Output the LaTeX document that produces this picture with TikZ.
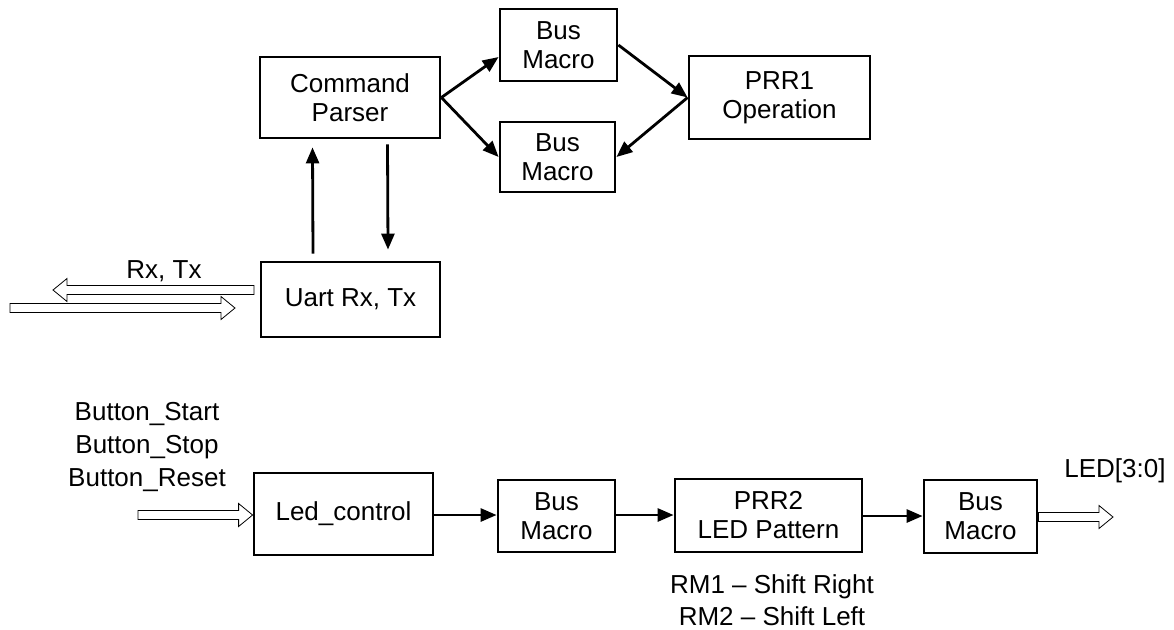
\documentclass[tikz,border=0pt]{standalone}
\usepackage{fontspec}
\setmainfont{Liberation Sans}
\usepackage{tikz}
\usetikzlibrary{arrows.meta}
\usetikzlibrary{calc}

\begin{document}
\begin{tikzpicture}[x=0.5pt,y=-0.5pt,
  every node/.style={font=\fontsize{13}{14.5}\selectfont},
  block/.style={draw, line width=1.4pt, align=center, inner sep=0pt},
  arr/.style={line width=1.4pt, -{Triangle[length=8pt,width=6.5pt]}},
  fatr/.style={draw, line width=0.8pt, to path={
    ($(\tikztostart)+(0,-4.5)$) -- ($(\tikztotarget)+(-14,-4.5)$) -- ($(\tikztotarget)+(-14,-11.5)$)
    -- (\tikztotarget) -- ($(\tikztotarget)+(-14,11.5)$) -- ($(\tikztotarget)+(-14,4.5)$)
    -- ($(\tikztostart)+(0,4.5)$) -- cycle}},
  fatl/.style={draw, line width=0.8pt, to path={
    ($(\tikztostart)+(0,-4.5)$) -- ($(\tikztotarget)+(14,-4.5)$) -- ($(\tikztotarget)+(14,-11.5)$)
    -- (\tikztotarget) -- ($(\tikztotarget)+(14,11.5)$) -- ($(\tikztotarget)+(14,4.5)$)
    -- ($(\tikztostart)+(0,4.5)$) -- cycle}}]
\useasboundingbox (0,0) rectangle (1174,629);

% upper part
\node[block, minimum width=90pt, minimum height=40.5pt] (cmd) at (350,97.5) {Command\\Parser};
\node[block, minimum width=58.5pt, minimum height=36pt] (busA) at (558.5,45) {Bus\\Macro};
\node[block, minimum width=57.5pt, minimum height=35pt] (busB) at (557.5,157) {Bus\\Macro};
\node[block, minimum width=90.5pt, minimum height=41.5pt] (prra) at (779.5,97.5) {PRR1\\Operation};
\node[block, minimum width=89.5pt, minimum height=37.5pt] (uart) at (350.5,299.5) {Uart Rx, Tx};

\draw [arr] (cmd.east) -- ([shift={(0,12)}]busA.west);
\draw [arr] (cmd.east) -- (busB.west);
\draw [arr] (busA.east) -- (prra.west);
\draw [arr] (prra.west) -- (busB.east);
\draw [arr] ([shift={(-37.5,-7)}]uart.north) -- ([shift={(-37.5,8)}]cmd.south);
\draw [arr] ([shift={(37.5,5)}]cmd.south) -- ([shift={(37.5,-11)}]uart.north);

\coordinate (rxs) at (254,290);
\coordinate (rxe) at (53,290);
\coordinate (txs) at (10,308);
\coordinate (txe) at (235,308);
\draw (rxs) to[fatl] (rxe);
\draw (txs) to[fatr] (txe);
\node (rxtx) at (164,271) {Rx, Tx};

% lower part
\node[align=center, font=\fontsize{13}{16.5}\selectfont] (btn) at (147,447) {Button\_Start\\Button\_Stop\\Button\_Reset};
\node[block, minimum width=89.5pt, minimum height=41pt] (led) at (343.5,514) {Led\_control};
\node[block, minimum width=58.5pt, minimum height=36pt] (busC) at (556.5,516) {Bus\\Macro};
\node[block, minimum width=93.5pt, minimum height=36.5pt] (prrb) at (768.5,515.5) {PRR2\\LED Pattern};
\node[block, minimum width=56.5pt, minimum height=36.5pt] (busD) at (980.5,516.5) {Bus\\Macro};
\node[align=center, font=\fontsize{13}{16}\selectfont] (rm) at (772,600) {RM1 -- Shift Right\\RM2 -- Shift Left};

\draw [arr] (led.east |- 0,515) -- (busC.west |- 0,515);
\draw [arr] (busC.east |- 0,515) -- (prrb.west |- 0,515);
\draw [arr] (prrb.east |- 0,516) -- (busD.west |- 0,516);

\coordinate (bti) at (138,515);
\coordinate (leo) at (1113,517);
\draw (bti) to[fatr] (led.west |- bti);
\draw (busD.east |- leo) to[fatr] (leo);
\node (ledout) at (1115,471) {LED[3:0]};
\end{tikzpicture}
\end{document}
